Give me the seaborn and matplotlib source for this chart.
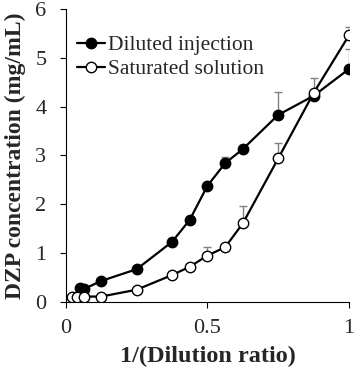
import matplotlib
matplotlib.use("Agg")
import matplotlib.pyplot as plt
import seaborn as sns
import numpy as np
import pandas as pd

# Data
inj_x = [0.05, 0.0625, 0.125, 0.25, 0.375, 0.4375, 0.5, 0.5625, 0.625, 0.75, 0.875, 1.0]
inj_y = [0.29, 0.26, 0.43, 0.67, 1.23, 1.68, 2.38, 2.84, 3.13, 3.83, 4.22, 4.77]
inj_err = [0, 0, 0, 0, 0, 0, 0, 0.13, 0, 0.47, 0, 0.40]

sat_x = [0.02, 0.04, 0.0625, 0.125, 0.25, 0.375, 0.4375, 0.5, 0.5625, 0.625, 0.75, 0.875, 1.0]
sat_y = [0.11, 0.11, 0.11, 0.11, 0.25, 0.55, 0.72, 0.95, 1.12, 1.61, 2.94, 4.28, 5.46]
sat_err = [0, 0, 0, 0, 0, 0, 0, 0.18, 0, 0.36, 0.31, 0.31, 0.17]

xticks = [0, 0.5, 1]
xtick_labels = ["0", "0.5", "1"]
yticks = [0, 1, 2, 3, 4, 5, 6]

sns.set_theme(style="white")
plt.rcParams['font.family'] = ['Liberation Serif', 'DejaVu Serif']

fig = plt.figure(figsize=(3.58, 3.70), dpi=100)
ax = fig.add_axes([0.184, 0.184, 0.791, 0.792])

# error bars (upper only)
ax.errorbar(inj_x, inj_y, yerr=[np.zeros(len(inj_err)), inj_err], fmt='none',
            ecolor='#808080', elinewidth=1.0, capsize=3, capthick=1.0, zorder=1)
ax.errorbar(sat_x, sat_y, yerr=[np.zeros(len(sat_err)), sat_err], fmt='none',
            ecolor='#808080', elinewidth=1.0, capsize=3, capthick=1.0, zorder=1)

df_inj = pd.DataFrame({"x": inj_x, "y": inj_y})
df_sat = pd.DataFrame({"x": sat_x, "y": sat_y})

sns.lineplot(data=df_inj, x="x", y="y", ax=ax, color="black", linewidth=1.6,
             marker="o", markersize=7.5, markerfacecolor="black",
             markeredgecolor="black", markeredgewidth=1.0,
             label="Diluted injection", zorder=3)
sns.lineplot(data=df_sat, x="x", y="y", ax=ax, color="black", linewidth=1.6,
             marker="o", markersize=7.5, markerfacecolor="white",
             markeredgecolor="black", markeredgewidth=1.0,
             label="Saturated solution", zorder=4)

ax.set_xlim(0, 1)
ax.set_ylim(0, 6)
ax.set_xticks(xticks)
ax.set_xticklabels(xtick_labels)
ax.set_yticks(yticks)
ax.tick_params(axis='both', labelsize=16, direction='out', length=4, width=0.8,
               color='black', bottom=True, left=True, pad=8)
ax.tick_params(axis='y', pad=10)
for s in ['top', 'right']:
    ax.spines[s].set_visible(False)
for s in ['left', 'bottom']:
    ax.spines[s].set_color('black')
    ax.spines[s].set_linewidth(0.8)

ax.set_xlabel("1/(Dilution ratio)", fontsize=17.5, fontweight='bold', labelpad=6)
ax.set_ylabel("DZP concentration (mg/mL)", fontsize=17, fontweight='bold', labelpad=7)

leg = ax.legend(loc='upper left', bbox_to_anchor=(-0.005, 0.955), frameon=False,
                fontsize=15.5, handlelength=1.3, handletextpad=0.1,
                borderaxespad=0.2, labelspacing=0.2)

fig.savefig("out.png", dpi=100)
